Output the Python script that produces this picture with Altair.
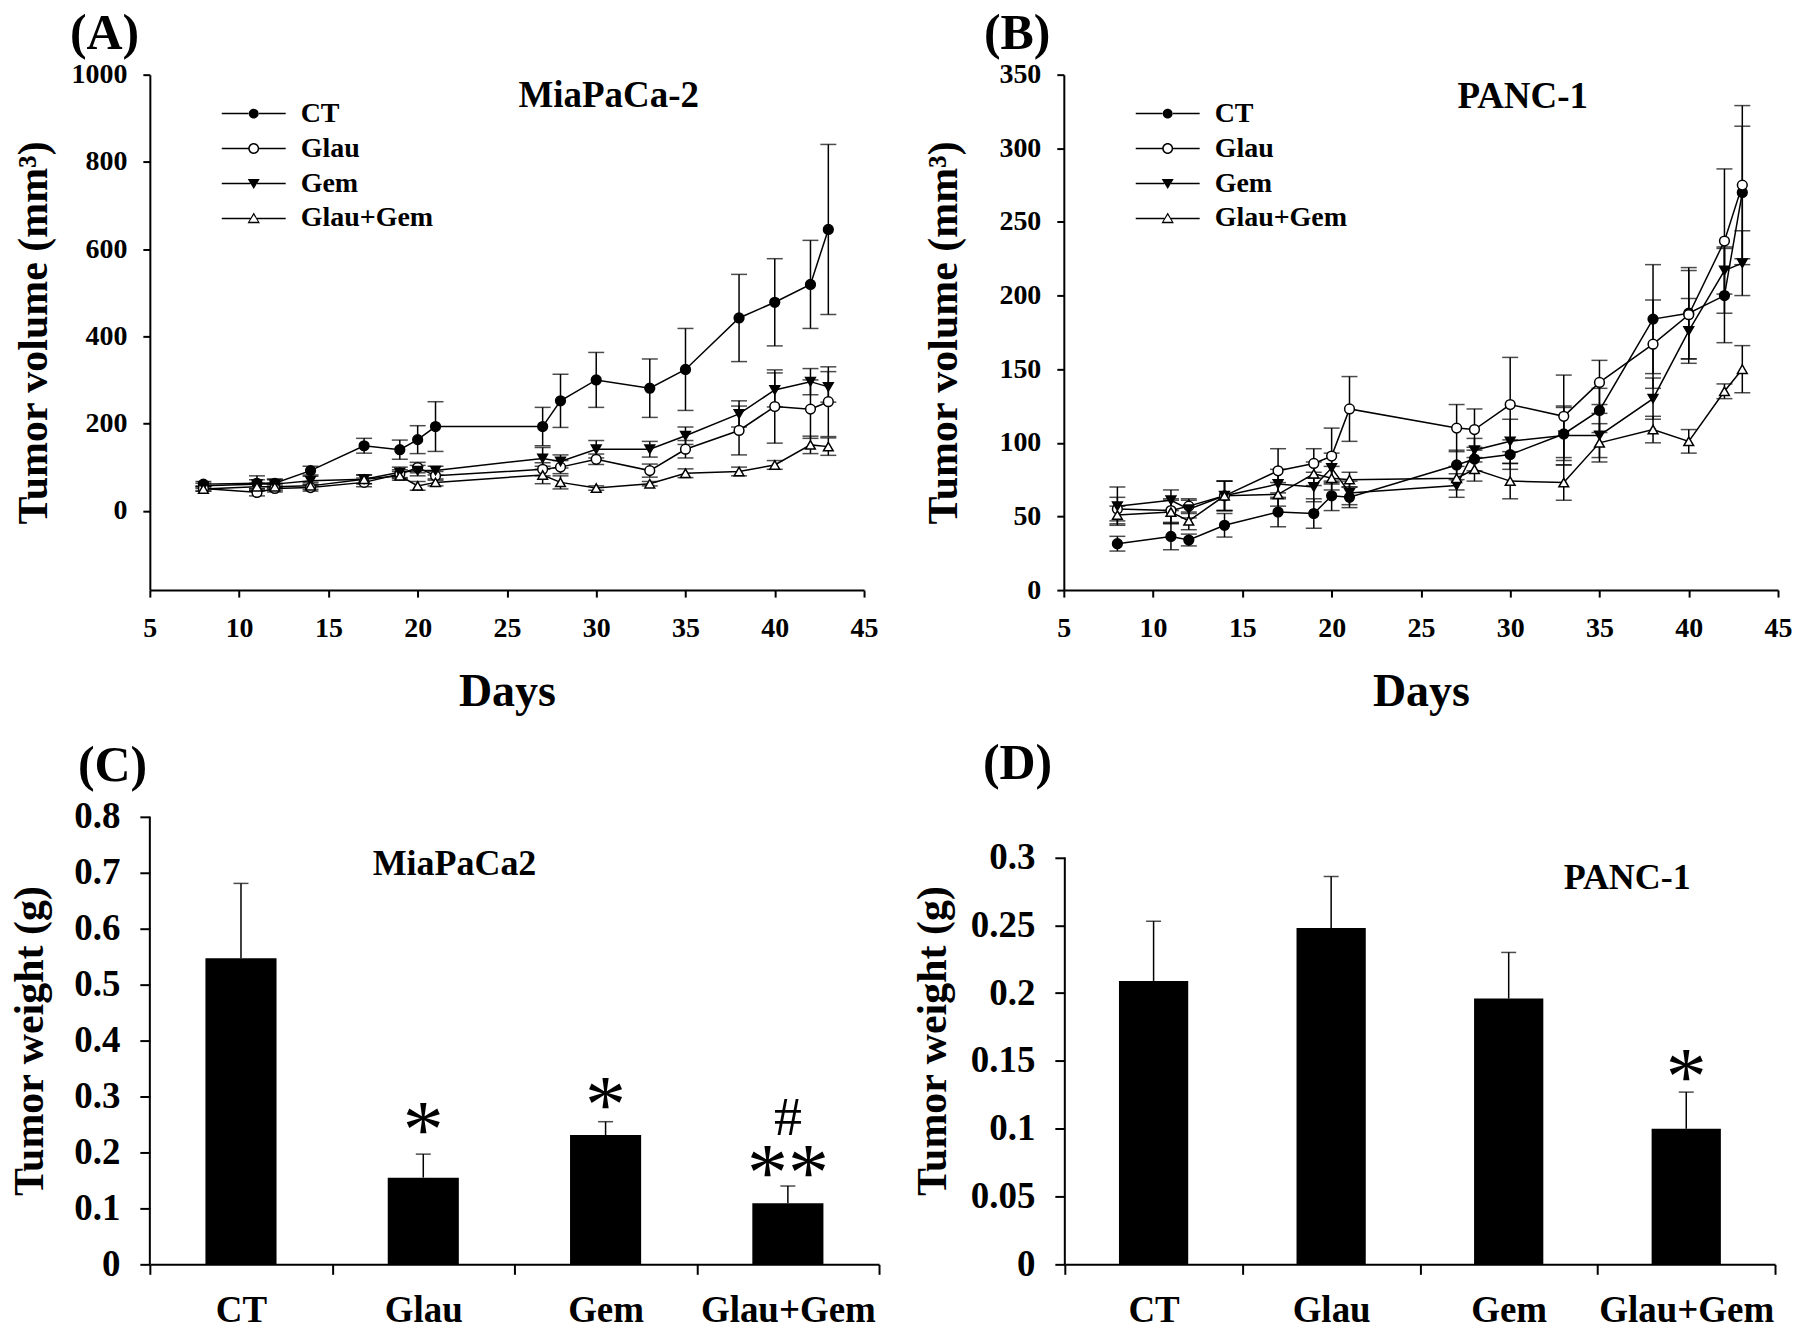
import altair as alt
import pandas as pd

SERIF = "Liberation Serif"

# ---------------- data ----------------
days = [8, 11, 12, 14, 17, 19, 20, 21, 27, 28, 30, 33, 35, 38, 40, 42, 43]
series = ["CT", "Glau", "Gem", "Glau+Gem"]

# (A) MiaPaCa-2 tumor volume (mm3)
a_ct = [61, 63, 63, 92, 149, 140, 163, 193, 193, 252, 300, 281, 324, 442, 478, 519, 645]
a_ct_err = [6, 17, 10, 10, 17, 22, 32, 57, 44, 61, 63, 67, 94, 100, 100, 101, 195]
a_glau = [51, 42, 51, 53, 65, 84, 99, 80, 95, 100, 118, 92, 141, 184, 239, 233, 250]
a_glau_err = [6, 8, 8, 8, 10, 10, 12, 10, 15, 15, 12, 15, 20, 56, 84, 67, 80]
a_gem = [57, 61, 61, 69, 72, 88, 92, 92, 120, 113, 141, 141, 172, 222, 277, 296, 284]
a_gem_err = [6, 10, 10, 10, 10, 12, 12, 10, 25, 15, 20, 18, 20, 30, 39, 30, 35]
a_combo = [50, 55, 55, 57, 72, 80, 57, 65, 82, 65, 52, 62, 86, 90, 105, 151, 147]
a_combo_err = [5, 8, 8, 8, 10, 10, 10, 8, 20, 15, 5, 5, 10, 10, 10, 20, 20]

# (B) PANC-1 tumor volume (mm3)
b_ct = [31.5, 36.4, 34, 44, 53, 52, 64, 63, 85, 89, 92, 106, 122, 184, 188, 200, 270]
b_ct_err = [5, 9, 4, 8, 10, 10, 10, 7, 10, 8, 10, 18, 15, 37, 31, 32, 45]
b_glau = [55, 54, 57, 64, 81, 86, 91, 123, 110, 109, 126, 118, 141, 167, 187, 237, 275]
b_glau_err = [8, 8, 5, 10, 15, 10, 19, 22, 16, 14, 32, 28, 15, 30, 30, 49, 54]
b_gem = [57, 61, 55, 64, 72, 70, 83, 66, 71, 95, 101, 105, 105, 130, 176, 217, 222]
b_gem_err = [13, 7, 6, 10, 10, 10, 10, 8, 8, 8, 15, 20, 15, 14, 22, 16, 22]
b_combo = [51, 53, 47, 64, 65, 79, 76, 75, 76, 82, 74, 73, 100, 109, 101, 135, 150]
b_combo_err = [6, 8, 6, 10, 8, 8, 8, 5, 8, 8, 12, 12, 13, 9, 8, 5, 16]

# (C) MiaPaCa2 tumor weight (g), (D) PANC-1 tumor weight (g)
groups = ["CT", "Glau", "Gem", "Glau+Gem"]
c_mean = [0.547, 0.155, 0.231, 0.109]
c_err = [0.134, 0.042, 0.024, 0.031]
d_mean = [0.209, 0.248, 0.196, 0.100]
d_err = [0.044, 0.038, 0.034, 0.027]

c_marks = ["*", "*", "#", "**"]
c_mark_groups = ["Glau", "Gem", "Glau+Gem", "Glau+Gem"]
c_mark_y = [0.259, 0.304, 0.266, 0.183]
d_marks = ["*"]
d_mark_groups = ["Glau+Gem"]
d_mark_y = [0.146]

vol_ticks_a = [0, 200, 400, 600, 800, 1000]
vol_ticks_b = [0, 50, 100, 150, 200, 250, 300, 350]
w_ticks_c = [0, 0.1, 0.2, 0.3, 0.4, 0.5, 0.6, 0.7, 0.8]
w_ticks_d = [0, 0.05, 0.1, 0.15, 0.2, 0.25, 0.3]

# legend symbols: line segment + marker (filled black, holes for open markers)
SEG_C = "M-3.2,-0.075H-0.53V0.075H-3.2ZM0.53,-0.075H3.2V0.075H0.53Z"
SEG_T = "M-3.2,-0.075H-0.34V0.075H-3.2ZM0.34,-0.075H3.2V0.075H0.34Z"
LEG_PATHS = [
    SEG_C + "M0.5,0A0.5,0.5,0,1,1,-0.5,0A0.5,0.5,0,1,1,0.5,0Z",
    SEG_C + "M0.55,0A0.55,0.55,0,1,1,-0.55,0A0.55,0.55,0,1,1,0.55,0Z"
    "M0.4,0A0.4,0.4,0,1,0,-0.4,0A0.4,0.4,0,1,0,0.4,0Z",
    SEG_T + "M-0.6,-0.45L0.6,-0.45L0,0.55Z",
    SEG_T + "M0,-0.6L0.62,0.47L-0.62,0.47ZM0,-0.36L-0.42,0.33L0.42,0.33Z",
]


def long_df(vals, errs):
    rows = []
    for s, v_list, e_list in zip(series, vals, errs):
        for d, v, e in zip(days, v_list, e_list):
            rows.append({"day": d, "series": s, "value": v, "lo": v - e, "hi": v + e})
    return pd.DataFrame(rows)


def axis_common():
    return dict(
        labelFont=SERIF, labelFontWeight="bold", labelColor="black",
        titleFont=SERIF, titleFontWeight="bold", titleColor="black",
        domainColor="black", tickColor="black", domainWidth=2, tickWidth=2,
        grid=False, labelFlush=False, labelOverlap=False,
    )


def line_panel(df, ydomain, yticks, name, name_x, name_y, letter, ytitle_pad):
    xs = alt.Scale(domain=[5, 45], nice=False, zero=False)
    ys = alt.Scale(domain=ydomain, nice=False, zero=False)
    xaxis = alt.Axis(values=list(range(5, 46, 5)), title="Days", titleFontSize=46,
                     titlePadding=28, labelFontSize=28, labelPadding=17, tickSize=7,
                     **axis_common())
    yaxis = alt.Axis(values=yticks, format="d", title="Tumor volume (mm³)", titleFontSize=42,
                     titlePadding=ytitle_pad, labelFontSize=28, labelPadding=16, tickSize=7,
                     **axis_common())

    def X(f):
        return alt.X(f, type="quantitative", scale=xs, axis=xaxis)

    def Y(f):
        return alt.Y(f, type="quantitative", scale=ys, axis=yaxis)

    base = alt.Chart(df)
    rules = base.mark_rule(color="black", strokeWidth=1.5).encode(x=X("day"), y=Y("lo"), y2="hi:Q")
    cap_lo = base.mark_tick(color="black", orient="horizontal", size=16, thickness=1.5).encode(x=X("day"), y=Y("lo"))
    cap_hi = base.mark_tick(color="black", orient="horizontal", size=16, thickness=1.5).encode(x=X("day"), y=Y("hi"))
    lines = base.mark_line(color="black", strokeWidth=1.5).encode(
        x=X("day"), y=Y("value"), detail="series:N", order="day:Q")
    points = base.mark_point(filled=True, size=95, stroke="black", strokeWidth=1.5, opacity=1).encode(
        x=X("day"), y=Y("value"),
        shape=alt.Shape("series:N", scale=alt.Scale(domain=series, range=["circle", "circle", "triangle-down", "triangle-up"]), legend=None),
        fill=alt.Fill("series:N", scale=alt.Scale(domain=series, range=["black", "white", "black", "white"]), legend=None),
    )
    legend_layer = base.transform_filter("false").mark_point(
        filled=True, color="black", strokeWidth=0, opacity=1).encode(
        x=X("day"), y=Y("value"),
        shape=alt.Shape("series:N", scale=alt.Scale(domain=series, range=LEG_PATHS),
                        legend=alt.Legend(title=None, orient="none", legendX=90, legendY=25,
                                          symbolSize=400, symbolStrokeWidth=0, symbolFillColor="black",
                                          symbolOpacity=1,
                                          labelFont=SERIF, labelFontSize=28, labelFontWeight="bold",
                                          labelColor="black", labelOffset=33, labelLimit=400,
                                          rowPadding=7, padding=0, symbolOffset=0)),
    )
    label_df = pd.DataFrame({"t": [name], "x": [name_x], "y": [name_y]})
    label = alt.Chart(label_df).mark_text(font=SERIF, fontSize=37, fontWeight="bold", color="black").encode(
        x=X("x"), y=Y("y"), text="t:N")
    return alt.layer(rules, cap_lo, cap_hi, lines, points, legend_layer, label).resolve_scale(
        shape="independent", fill="independent"
    ).properties(
        width=715, height=516,
        title=alt.TitleParams(letter, anchor="start", frame="group", dx=-80, offset=2,
                              font=SERIF, fontSize=50, fontWeight="bold", color="black"),
    )


def bar_panel(means, errs, ydomain, axis_top, yticks, fmt, width, height, name, name_px, name_y,
              marks, mark_groups, mark_y, letter, letter_dx, letter_offset, ytitle_pad):
    df = pd.DataFrame({"group": groups, "mean": means,
                       "hi": [m + e for m, e in zip(means, errs)]})
    xs = alt.Scale(domain=groups, paddingInner=0, paddingOuter=0)
    xaxis = alt.Axis(title=None, labelAngle=0, tickBand="extent", labelFontSize=37,
                     labelPadding=18, tickSize=10, **axis_common())
    ys = alt.Scale(domain=ydomain, nice=False, zero=True)
    yaxis = alt.Axis(values=yticks, format=fmt, title="Tumor weight (g)", titleFontSize=42,
                     titlePadding=ytitle_pad, labelFontSize=37, labelPadding=20, tickSize=10,
                     domain=False, **axis_common())

    def X(f):
        return alt.X(f, type="nominal", scale=xs, axis=xaxis, sort=groups)

    def Y(f):
        return alt.Y(f, type="quantitative", scale=ys, axis=yaxis)

    base = alt.Chart(df)
    bars = base.mark_bar(color="black", width=alt.RelativeBandSize(0.39)).encode(x=X("group"), y=Y("mean"))
    err = base.mark_rule(color="black", strokeWidth=1.5).encode(x=X("group"), y=Y("mean"), y2="hi:Q")
    cap = base.mark_tick(color="black", orient="horizontal", size=15, thickness=1.5).encode(x=X("group"), y=Y("hi"))
    # y-axis line from 0 to the top tick
    adf = pd.DataFrame({"y0": [0.0], "y1": [axis_top]})
    yline = alt.Chart(adf).mark_rule(color="black", strokeWidth=2).encode(
        x=alt.value(0), y=Y("y0"), y2="y1:Q")
    mdf = pd.DataFrame({"group": mark_groups, "t": marks, "y": mark_y})
    stars = alt.Chart(mdf).transform_filter("datum.t != '#'").mark_text(
        font=SERIF, fontSize=82, color="black", baseline="alphabetic", dy=38).encode(
        x=X("group"), y=Y("y"), text="t:N")
    hashes = alt.Chart(mdf).transform_filter("datum.t == '#'").mark_text(
        font=SERIF, fontSize=56, color="black", baseline="alphabetic", dy=19).encode(
        x=X("group"), y=Y("y"), text="t:N")
    ndf = pd.DataFrame({"t": [name], "y": [name_y]})
    nlabel = alt.Chart(ndf).mark_text(font=SERIF, fontSize=36, fontWeight="bold", color="black").encode(
        x=alt.value(name_px), y=Y("y"), text="t:N")
    return alt.layer(bars, err, cap, yline, stars, hashes, nlabel).properties(
        width=width, height=height,
        title=alt.TitleParams(letter, anchor="start", frame="group", dx=letter_dx, offset=letter_offset,
                              font=SERIF, fontSize=50, fontWeight="bold", color="black"),
    )


df_a = long_df([a_ct, a_glau, a_gem, a_combo], [a_ct_err, a_glau_err, a_gem_err, a_combo_err])
df_b = long_df([b_ct, b_glau, b_gem, b_combo], [b_ct_err, b_glau_err, b_gem_err, b_combo_err])

pa = line_panel(df_a, [-182, 1000], vol_ticks_a, "MiaPaCa-2", 30.7, 950, "(A)", 15)
pb = line_panel(df_b, [0, 350], vol_ticks_b, "PANC-1", 30.7, 335, "(B)", 33)
# C: 0.8 at top of a 448 px plot; D: 0.3 spans 407 px of the same 448 px height
pc = bar_panel(c_mean, c_err, [0, 0.8], 0.8, w_ticks_c, ".1~f", 730, 448, "MiaPaCa2", 305, 0.715,
               c_marks, c_mark_groups, c_mark_y, "(C)", -72, 7, 22)
pd_ = bar_panel(d_mean, d_err, [0, 0.33], 0.3, w_ticks_d, ".2~f", 711, 448, "PANC-1", 563, 0.285,
                d_marks, d_mark_groups, d_mark_y, "(D)", -82, 28, 16)

row1 = alt.hconcat(pa, pb, spacing=45)
row2 = alt.hconcat(pc, pd_, spacing=31)
chart = alt.vconcat(row1, row2, spacing=24).properties(
    padding={"left": 0, "top": 0, "right": 0, "bottom": 0},
    background="white",
).configure_view(stroke=None)

chart.save("out.html", embed_options={"renderer": "svg", "actions": False})
